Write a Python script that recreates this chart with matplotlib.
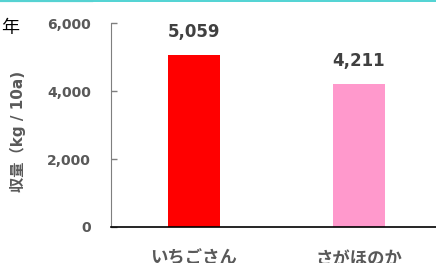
import matplotlib.pyplot as plt
from matplotlib.lines import Line2D

# ~~~ data ~~~
varieties = ['いちごさん', 'さがほのか']
yields = [5059, 4211]
value_labels = ['5,059', '4,211']
bar_colors = ['#ff0000', '#ff99cc']
y_ticks = [0, 2000, 4000, 6000]
y_tick_labels = ['0', '2,000', '4,000', '6,000']

JP = ['Noto Sans CJK JP', 'DejaVu Sans']
LATIN = ['DejaVu Sans', 'Noto Sans CJK JP']

fig = plt.figure(figsize=(4.36, 2.63), dpi=100)
ax = fig.add_axes([111 / 436, 1 - 227 / 263, 325 / 436, 204 / 263])

x = list(range(len(varieties)))
ax.bar(x, yields, width=0.315, color=bar_colors, zorder=2)

for xi, val, lab in zip(x, yields, value_labels):
    ax.annotate(lab, (xi, val), xytext=(0, 16.5), textcoords='offset points',
                ha='center', va='center', fontsize=12, fontweight='bold',
                color='#404040', family=LATIN)

ax.set_xlim(-0.5, 1.467)
ax.set_ylim(0, 6000)

ax.set_yticks(y_ticks)
ax.set_yticklabels(y_tick_labels, fontsize=10, fontweight='bold',
                   color='#595959', family=LATIN)
ax.tick_params(axis='y', direction='in', length=4, width=1,
               color='#7f7f7f', pad=14.4)

ax.set_xticks(x)
ax.set_xticklabels(varieties, fontsize=12.5, fontweight='bold',
                   color='#595959', family=JP)
ax.tick_params(axis='x', length=0, pad=16.5)

for side in ['top', 'right']:
    ax.spines[side].set_visible(False)
ax.spines['left'].set_color('#7f7f7f')
ax.spines['bottom'].set_color('black')
ax.spines['bottom'].set_linewidth(1.2)

ax.set_ylabel('収量（kg / 10a)', fontsize=11, fontweight='bold',
              color='#595959', family=LATIN)
ax.yaxis.set_label_coords(-0.262, 0.47)

# cut-off title fragment and top rule
fig.text(10 / 436, 1 - 28 / 263, '年', ha='center', va='center',
         fontsize=13, color='black', family=JP)
fig.add_artist(Line2D([0, 1], [1 - 0.5 / 263] * 2, color='#33cccc',
                      linewidth=1.2, transform=fig.transFigure))
fig.add_artist(Line2D([0, 92 / 436], [1 - 1 / 263] * 2, color='#55d2d2',
                      linewidth=1.6, transform=fig.transFigure))

fig.savefig('out.png', dpi=100)
